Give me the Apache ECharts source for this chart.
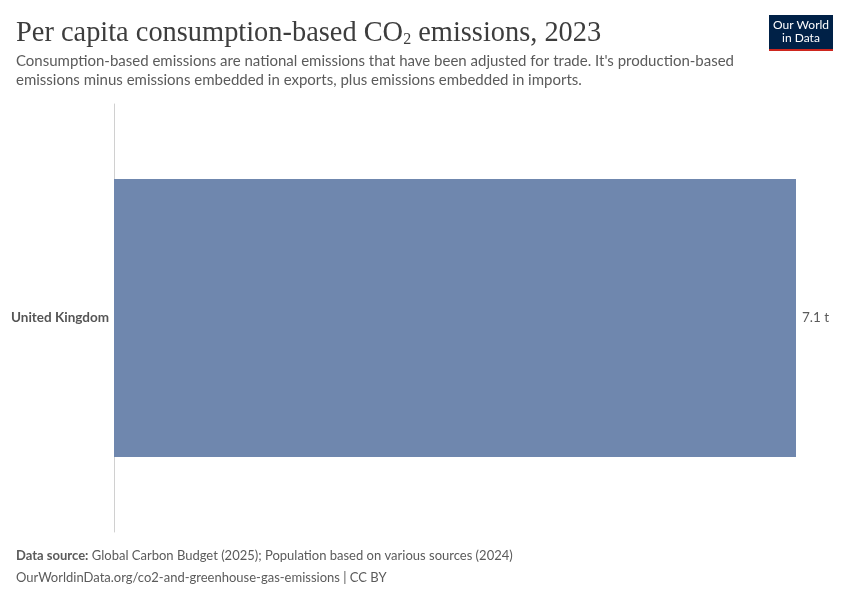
<!DOCTYPE html>
<html lang="en">
<head>
    <meta charset="UTF-8">
    <title>Per capita consumption-based CO2 emissions, 2023</title>
    <script src="https://cdn.jsdelivr.net/npm/echarts@6/dist/echarts.min.js"></script>
    <style>
        html, body { margin: 0; padding: 0; background: #fff; }
        #container { width: 850px; height: 600px; }
    </style>
</head>
<body>
<div id="container"></div>
<script>
    // data
    var countries = ['United Kingdom'];
    var emissions = [7.1];
    var unit = ' t';

    var chart = echarts.init(document.getElementById('container'));

    var option = {
        animation: false,
        backgroundColor: '#fff',
        textStyle: { fontFamily: 'Lato, "Noto Sans", sans-serif' },
        title: [{
            text: 'Per capita consumption-based CO{sub|2} emissions, 2023',
            left: 16,
            top: 19,
            padding: 0,
            textStyle: {
                fontFamily: '"Liberation Serif", "DejaVu Serif", serif',
                fontSize: 28.4,
                fontWeight: 'normal',
                color: '#3d3d3d',
                rich: {
                    sub: {
                        fontFamily: '"Liberation Serif", "DejaVu Serif", serif',
                        fontSize: 16,
                        color: '#3d3d3d',
                        verticalAlign: 'bottom',
                        padding: [13, 0, 0, 0]
                    }
                }
            }
        }, {
            text: 'Consumption-based emissions are national emissions that have been adjusted for trade. It\'s production-based\nemissions minus emissions embedded in exports, plus emissions embedded in imports.',
            left: 16,
            top: 52,
            padding: 0,
            textStyle: {
                fontFamily: 'Lato, sans-serif',
                fontSize: 15,
                fontWeight: 'normal',
                color: '#5b5b5b',
                lineHeight: 19
            }
        }, {
            text: '{b|Data source:} Global Carbon Budget (2025); Population based on various sources (2024)\nOurWorldinData.org/co2-and-greenhouse-gas-emissions | CC BY',
            left: 16,
            top: 545,
            padding: 0,
            textStyle: {
                fontFamily: 'Lato, sans-serif',
                fontSize: 13,
                fontWeight: 'normal',
                color: '#5b5b5b',
                lineHeight: 22,
                rich: {
                    b: { fontFamily: 'Lato, sans-serif', fontSize: 13, fontWeight: 'bold', color: '#5b5b5b' }
                }
            }
        }],
        graphic: [{
            type: 'group',
            left: 769,
            top: 15,
            children: [
                { type: 'rect', shape: { x: 0, y: 0, width: 64, height: 34 }, style: { fill: '#002147' } },
                { type: 'rect', shape: { x: 0, y: 34, width: 64, height: 2 }, style: { fill: '#ce261e' } },
                { type: 'text', style: { x: 32, y: 4, text: 'Our World\nin Data', fill: '#fff',
                    font: '12px Lato, sans-serif', align: 'center', lineHeight: 13 } }
            ]
        }],
        grid: {
            left: 114,
            right: 54,
            top: 104,
            bottom: 68,
            containLabel: false
        },
        xAxis: {
            type: 'value',
            min: 0,
            max: 7.1,
            show: false
        },
        yAxis: {
            type: 'category',
            data: countries,
            inverse: true,
            axisLine: { show: true, lineStyle: { color: '#d0d0d0', width: 1 } },
            axisTick: { show: false },
            axisLabel: {
                margin: 5,
                fontFamily: 'Lato, sans-serif',
                fontSize: 13.5,
                fontWeight: 'bold',
                color: '#555'
            }
        },
        series: [{
            type: 'bar',
            data: emissions,
            barCategoryGap: '35%',
            itemStyle: { color: '#6f87ae' },
            label: {
                show: true,
                position: 'right',
                distance: 6,
                fontFamily: 'Lato, sans-serif',
                fontSize: 13.5,
                color: '#5b5b5b',
                formatter: function (p) { return p.value + unit; }
            }
        }]
    };

    chart.setOption(option);
</script>
</body>
</html>
